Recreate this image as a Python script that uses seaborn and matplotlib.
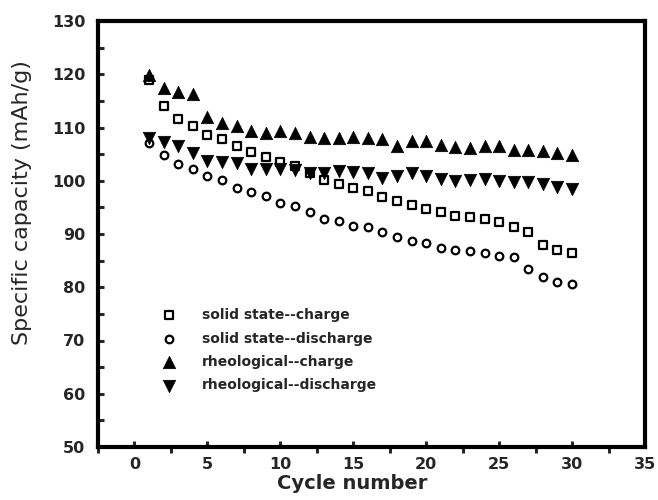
import matplotlib
matplotlib.use("Agg")
import matplotlib.pyplot as plt
from matplotlib.ticker import MultipleLocator
import seaborn as sns
import pandas as pd

cycles = [1, 2, 3, 4, 5, 6, 7, 8, 9, 10, 11, 12, 13, 14, 15,
          16, 17, 18, 19, 20, 21, 22, 23, 24, 25, 26, 27, 28, 29, 30]
solid_charge = [119.0, 114.0, 111.6, 110.2, 108.5, 107.8, 106.5, 105.4, 104.5, 103.6,
                102.7, 101.5, 100.1, 99.4, 98.6, 98.1, 97.0, 96.2, 95.4, 94.7,
                94.2, 93.4, 93.2, 92.8, 92.3, 91.4, 90.4, 87.9, 87.0, 86.5]
solid_discharge = [107.0, 104.8, 103.1, 102.3, 100.9, 100.1, 98.6, 97.8, 97.1, 95.9,
                   95.3, 94.2, 92.8, 92.5, 91.5, 91.4, 90.4, 89.5, 88.6, 88.4,
                   87.4, 87.0, 86.9, 86.5, 85.9, 85.6, 83.5, 82.0, 81.0, 80.6]
rheo_charge = [119.9, 117.5, 116.6, 116.2, 111.9, 110.9, 110.3, 109.4, 108.9, 109.4,
               108.9, 108.2, 108.1, 108.1, 108.3, 108.0, 107.8, 106.5, 107.5, 107.5,
               106.7, 106.4, 106.1, 106.6, 106.5, 105.8, 105.8, 105.5, 105.3, 104.8]
rheo_discharge = [108.0, 107.2, 106.5, 105.2, 103.8, 103.6, 103.3, 102.3, 102.3, 102.3,
                  102.0, 101.4, 101.4, 101.8, 101.7, 101.4, 100.5, 100.8, 101.5, 100.9,
                  100.3, 100.0, 100.1, 100.3, 100.0, 99.8, 99.8, 99.3, 98.9, 98.4]
labels = ["solid state--charge", "solid state--discharge",
          "rheological--charge", "rheological--discharge"]

sns.set_style("white")
plt.rcParams["font.family"] = ["DejaVu Sans"]

fig = plt.figure(figsize=(6.58, 5.0), dpi=100)
ax = fig.add_axes([98 / 658, 1 - 447 / 500, (645 - 98) / 658, (447 - 21) / 500])

df = pd.DataFrame({"cycle": cycles, "sc": solid_charge, "sd": solid_discharge,
                   "rc": rheo_charge, "rd": rheo_discharge})

sns.scatterplot(data=df, x="cycle", y="sc", ax=ax, marker="s", s=26,
                facecolor="white", edgecolor="black", linewidth=1.6, label=labels[0], zorder=3)
sns.scatterplot(data=df, x="cycle", y="sd", ax=ax, marker="o", s=30,
                facecolor="white", edgecolor="black", linewidth=1.6, label=labels[1], zorder=3)
sns.scatterplot(data=df, x="cycle", y="rc", ax=ax, marker="^", s=80,
                color="black", edgecolor="black", linewidth=0.5, label=labels[2], zorder=4)
sns.scatterplot(data=df, x="cycle", y="rd", ax=ax, marker="v", s=80,
                color="black", edgecolor="black", linewidth=0.5, label=labels[3], zorder=4)

ax.set_xlim(-2.5, 35)
ax.set_ylim(50, 130)
ax.xaxis.set_major_locator(MultipleLocator(5))
ax.xaxis.set_minor_locator(MultipleLocator(5, offset=2.5))
ax.yaxis.set_major_locator(MultipleLocator(10))
ax.yaxis.set_minor_locator(MultipleLocator(5))

for sp in ax.spines.values():
    sp.set_linewidth(3.0)
    sp.set_color("black")
    sp.set_visible(True)

ax.tick_params(axis="x", which="major", direction="in", length=4.5, width=2.2,
               pad=7, labelsize=11.5, bottom=True, top=False)
ax.tick_params(axis="x", which="minor", direction="out", length=4.5, width=2.2,
               bottom=True, top=False)
ax.tick_params(axis="y", which="both", direction="in", length=4.5, width=2.2,
               left=True, right=False)
ax.tick_params(axis="y", which="major", pad=9, labelsize=11.5)
for t in ax.get_xticklabels() + ax.get_yticklabels():
    t.set_fontweight("bold")

ax.set_xlabel("Cycle number", fontsize=14, fontweight="bold")
ax.set_ylabel("Specific capacity (mAh/g)", fontsize=16)
ax.xaxis.set_label_coords(0.464, -0.064)
ax.yaxis.set_label_coords(-0.12, 0.573)

ax.legend(loc="upper left", bbox_to_anchor=(0.117, 0.326), frameon=False,
          borderaxespad=0, borderpad=0, handlelength=1.0, handletextpad=1.9,
          labelspacing=0.68, scatterpoints=1,
          prop={"family": "DejaVu Sans", "weight": "bold", "size": 10})

fig.savefig("out.png", dpi=100, facecolor="white")
